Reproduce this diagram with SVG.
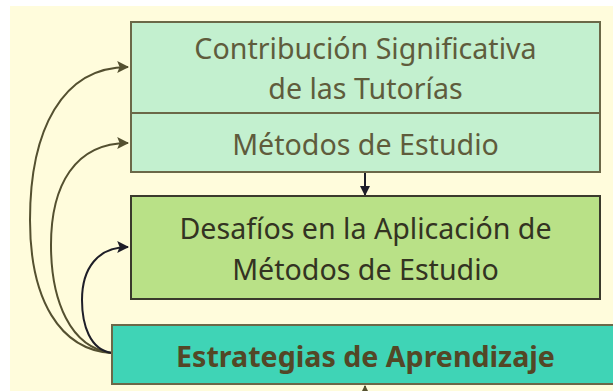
<svg xmlns="http://www.w3.org/2000/svg" width="613" height="391" viewBox="0 0 613 391">
<style>
.node rect{stroke-width:2}
.t{font-family:"Noto Sans","Open Sans",sans-serif;font-size:28.6px;text-anchor:middle;dominant-baseline:central}
.lt{fill:#5f5c3c}
.dk{fill:#333322}
.bd{font-weight:bold;fill:#534726}
.c{fill:none;stroke-width:2}
</style>
<defs>
<marker id="aO" viewBox="0 0 10 10" refX="9" refY="5" markerWidth="10" markerHeight="10" orient="auto" markerUnits="userSpaceOnUse">
<path d="M0,0 L10,5 L0,10 z" fill="#545030"/>
</marker>
<marker id="aK" viewBox="0 0 10 10" refX="9" refY="5" markerWidth="10" markerHeight="10" orient="auto" markerUnits="userSpaceOnUse">
<path d="M0,0 L10,5 L0,10 z" fill="#1e1e28"/>
</marker>
<marker id="aOb" viewBox="0 0 10 10" refX="9" refY="5" markerWidth="12" markerHeight="12" orient="auto" markerUnits="userSpaceOnUse">
<path d="M0,0 L10,5 L0,10 L2,5 z" fill="#545030"/>
</marker>
<marker id="aKb" viewBox="0 0 10 10" refX="9" refY="5" markerWidth="12" markerHeight="12" orient="auto" markerUnits="userSpaceOnUse">
<path d="M0,0 L10,5 L0,10 L2,5 z" fill="#1e1e28"/>
</marker>
</defs>
<rect x="10" y="6" width="603" height="385" fill="#fffcdc"/>
<g id="connectors">
<path class="c" stroke="#545030" d="M112,353 C60,350 30,300 30,220 C30,130 62,67 128,67" marker-end="url(#aOb)"/>
<path class="c" stroke="#545030" d="M112,353 C70,348 51,300 51,245 C51,185 75,143 128,143" marker-end="url(#aOb)"/>
<path class="c" stroke="#1e1e28" d="M112,353 C90,350 82,325 82,300 C82,268 98,247 128,247" marker-end="url(#aKb)"/>
<path class="c" stroke="#1e1e28" stroke-width="1.5" d="M365,173 L365,195" marker-end="url(#aK)"/>
<path class="c" stroke="#545030" d="M365,397 L365,386" marker-end="url(#aO)"/>
</g>
<g id="n1" class="node">
<rect x="131" y="22" width="469" height="91" fill="#c3f0cf" stroke="#6b6848"/>
<text class="t lt" x="365.5" y="47">Contribución Significativa</text>
<text class="t lt" x="365.5" y="87">de las Tutorías</text>
</g>
<g id="n2" class="node">
<rect x="131" y="113" width="469" height="59" fill="#c3f0cf" stroke="#6b6848"/>
<text class="t lt" x="365.5" y="143">Métodos de Estudio</text>
</g>
<g id="n3" class="node">
<rect x="131" y="196" width="469" height="103" fill="#b9e187" stroke="#3a3a2c"/>
<text class="t dk" x="365.5" y="227">Desafíos en la Aplicación de</text>
<text class="t dk" x="365.5" y="268">Métodos de Estudio</text>
</g>
<g id="n4" class="node">
<rect x="112" y="325" width="510" height="59" fill="#3fd4b6" stroke="#6b6848"/>
<text class="t bd" x="365.5" y="355">Estrategias de Aprendizaje</text>
</g>
</svg>
